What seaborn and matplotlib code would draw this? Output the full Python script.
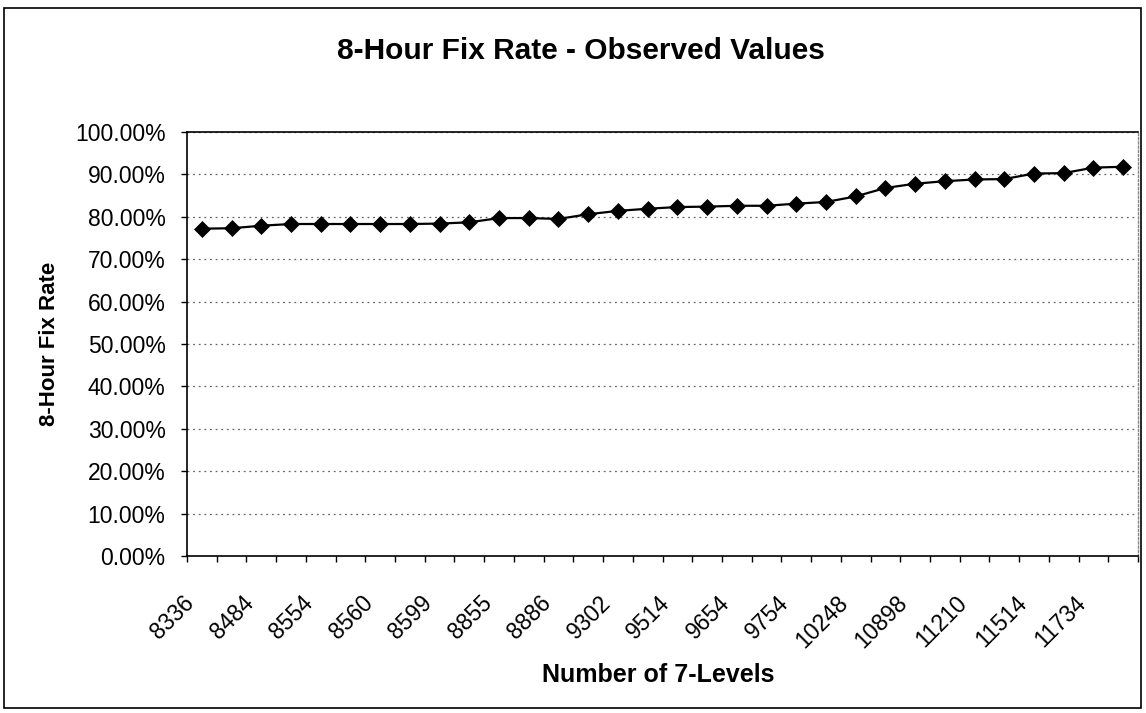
import numpy as np
import pandas as pd
import matplotlib
matplotlib.use("Agg")
import matplotlib.pyplot as plt
import matplotlib.transforms as mtransforms
from matplotlib.ticker import PercentFormatter, FixedLocator
from matplotlib.patches import Rectangle
import seaborn as sns

# ---- data ----
fix_rate = [0.772, 0.773, 0.779, 0.783, 0.783, 0.783, 0.783, 0.783,
            0.784, 0.787, 0.797, 0.797, 0.795, 0.806, 0.814, 0.819,
            0.823, 0.824, 0.826, 0.826, 0.831, 0.835, 0.848, 0.868,
            0.878, 0.884, 0.888, 0.889, 0.902, 0.903, 0.916, 0.918]
tick_labels = ["8336", "8484", "8554", "8560", "8599", "8855", "8886", "9302",
               "9514", "9654", "9754", "10248", "10898", "11210", "11514", "11734"]
title = "8-Hour Fix Rate - Observed Values"
xlabel = "Number of 7-Levels"
ylabel = "8-Hour Fix Rate"

sns.set_style("white")
plt.rcParams['font.family'] = ['Liberation Sans', 'DejaVu Sans']
plt.rcParams['text.color'] = 'black'
plt.rcParams['axes.labelcolor'] = 'black'
plt.rcParams['xtick.color'] = 'black'
plt.rcParams['ytick.color'] = 'black'

fig = plt.figure(figsize=(11.46, 7.13), dpi=100)
W, H = 1146, 713
L, R, T, B = 187, 1138, 132, 556
ax = fig.add_axes([L / W, 1 - B / H, (R - L) / W, (B - T) / H])

df = pd.DataFrame({"idx": np.arange(len(fix_rate)), "rate": fix_rate})
sns.lineplot(data=df, x="idx", y="rate", ax=ax, color="black", linewidth=1.6,
             marker="D", markersize=8, markeredgecolor="black",
             markerfacecolor="black", markeredgewidth=0.5)

n = len(fix_rate)
ax.set_xlim(-0.5, n - 0.5)
ax.set_ylim(0, 1.0)

# y axis
ax.yaxis.set_major_locator(FixedLocator(np.linspace(0, 1, 11)))
ax.yaxis.set_major_formatter(PercentFormatter(1.0, decimals=2))
ax.tick_params(axis="y", which="major", direction="out", length=4.5, width=1,
               color="black", pad=11, labelsize=16.5, left=True)
ax.yaxis.grid(True, color="#666666", linestyle=(0, (1.5, 3)), linewidth=0.9)
ax.xaxis.grid(False)

# x axis: labels on every other category, tick marks at category boundaries
ax.set_xticks(np.arange(0, n, 2))
ax.set_xticklabels(tick_labels)
ax.set_xticks(np.arange(-0.5, n, 1.0), minor=True)
ax.tick_params(axis="x", which="major", length=0, pad=31.5, labelsize=16.5)
ax.tick_params(axis="x", which="minor", direction="out", length=4, width=1,
               color="black", bottom=True)
offset = mtransforms.ScaledTranslation(-11 / 100, 0, fig.dpi_scale_trans)
for lab in ax.get_xticklabels():
    lab.set_rotation(45)
    lab.set_ha("right")
    lab.set_va("center")
    lab.set_rotation_mode("anchor")
    lab.set_transform(lab.get_transform() + offset)

for side in ["left", "bottom", "top"]:
    ax.spines[side].set_color("black")
    ax.spines[side].set_linewidth(1.2)
ax.spines["right"].set_color("#888888")
ax.spines["right"].set_linewidth(1.0)
ax.spines["right"].set_linestyle((0, (1.5, 1.5)))

ax.set_xlabel(xlabel, fontsize=18, fontweight="bold", va="center")
ax.xaxis.set_label_coords(0.496, -(675 - B) / (B - T))
ax.set_ylabel(ylabel, fontsize=16, fontweight="bold", va="center")
ax.yaxis.set_label_coords((50 - L) / (R - L), 0.5)

fig.text(581 / W, 1 - 51 / H, title, fontsize=21.5, fontweight="bold",
         ha="center", va="center")

# outer chart border
fig.add_artist(Rectangle((4 / W, 1 - 708 / H), (1141 - 4) / W, (708 - 8) / H,
                         transform=fig.transFigure, fill=False,
                         edgecolor="black", linewidth=1.2))

fig.savefig("out.png", dpi=100)
